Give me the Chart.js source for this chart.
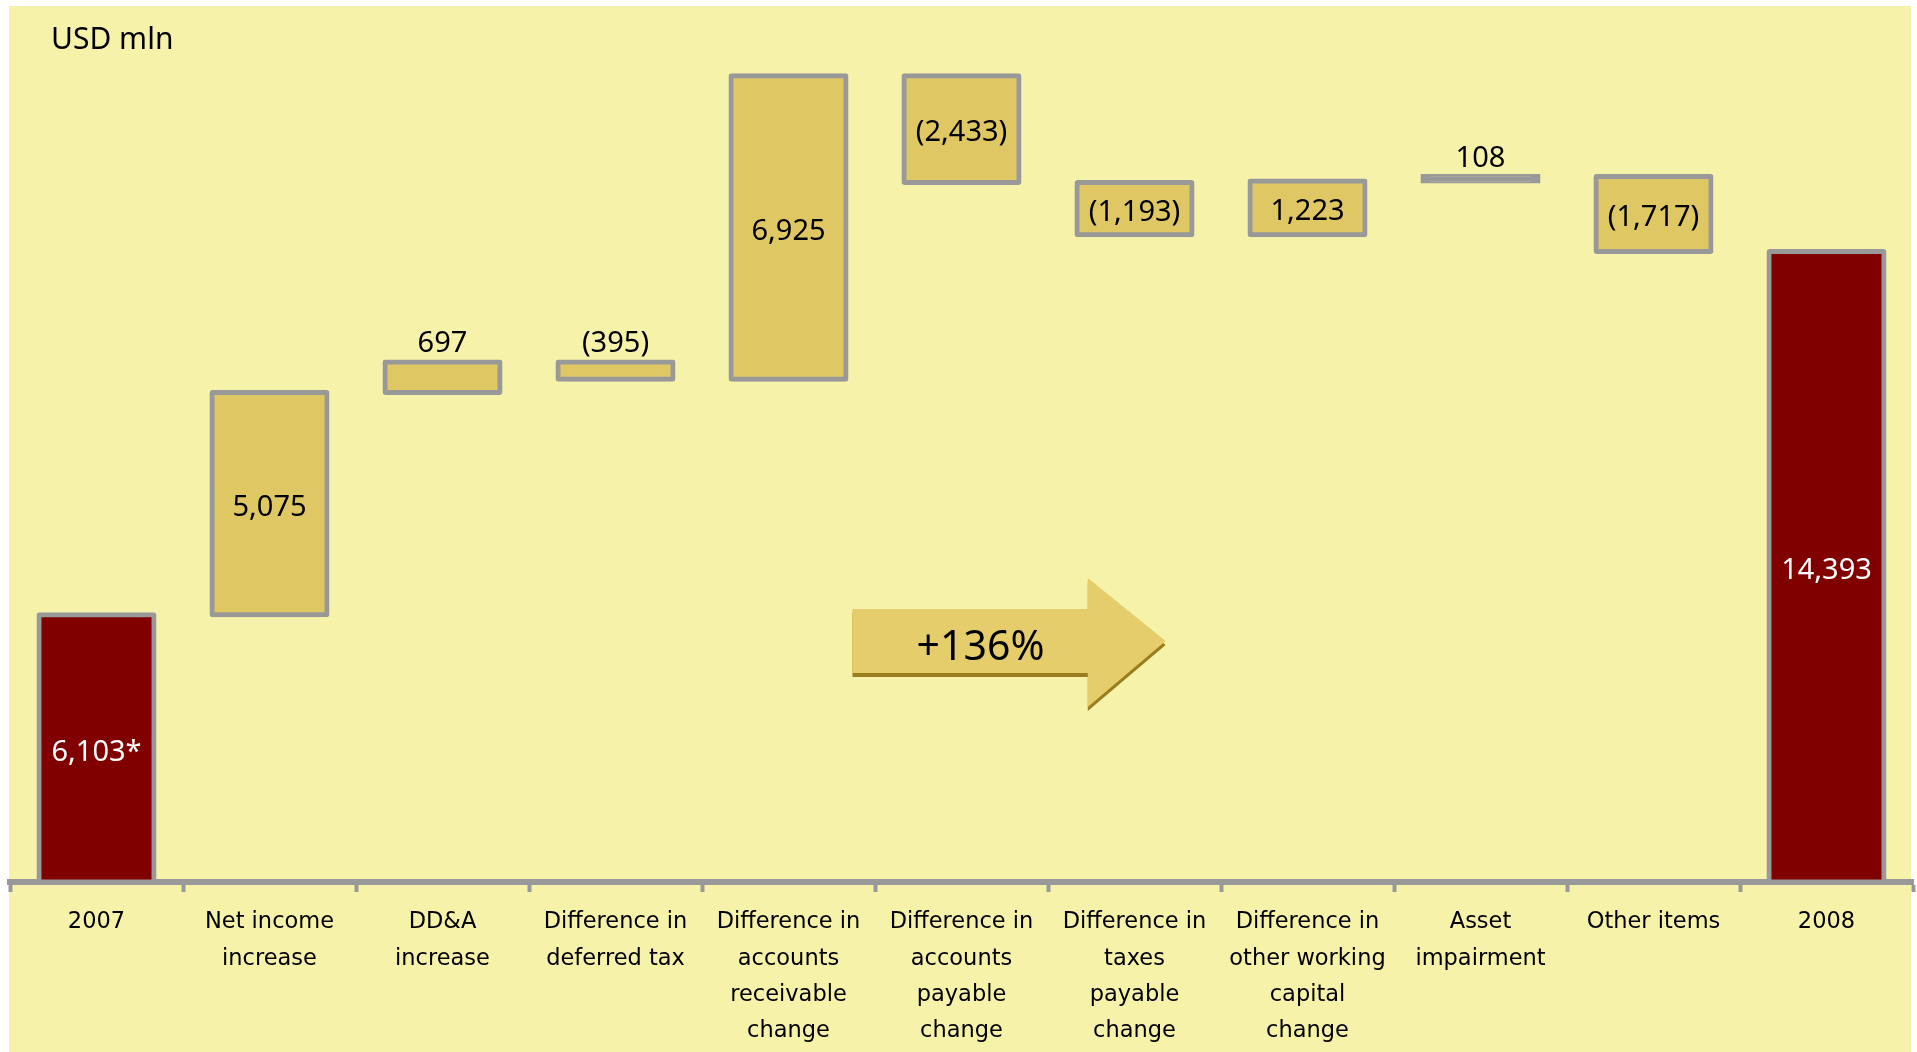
<!DOCTYPE html>
<html><head><meta charset="utf-8">
<script src="https://cdn.jsdelivr.net/npm/chart.js@4"></script>
<style>
html,body{margin:0;padding:0;background:#fff;overflow:hidden;}
#wrap{position:relative;width:1917px;height:1052px;}
#panel{position:absolute;left:9px;top:6px;width:1902px;height:1046px;background:#F7F2AA;}
canvas{position:absolute;left:0;top:0;}
</style></head><body>
<div id="wrap"><div id="panel"></div><canvas id="c" width="1917" height="1052"></canvas></div>
<script>
// ---- data ----
const unitLabel = "USD mln";
const categories = [
  ["2007"],
  ["Net income", "increase"],
  ["DD&A", "increase"],
  ["Difference in", "deferred tax"],
  ["Difference in", "accounts", "receivable", "change"],
  ["Difference in", "accounts", "payable", "change"],
  ["Difference in", "taxes", "payable", "change"],
  ["Difference in", "other working", "capital", "change"],
  ["Asset", "impairment"],
  ["Other items"],
  ["2008"]
];
const startValue = 6103;
const changes = [5075, 697, -395, 6925, -2433, -1193, 1223, 108, -1717];
const endValue = 14393;
const startMark = "*";
const growthLabel = "+136%";
const yMin = 0, yMax = 20000;

// ---- build floating ranges from the data ----
const ranges = [[0, startValue]];
const values = [startValue];
let run = startValue;
for (const d of changes) { ranges.push([run, run + d]); values.push(d); run += d; }
ranges.push([0, endValue]); values.push(endValue);
const lastIdx = values.length - 1;

function fmt(v, i) {
  const s = Math.abs(v).toLocaleString('en-US');
  let t = v < 0 ? '(' + s + ')' : s;
  if (i === 0) t += startMark;
  return t;
}

// ---- styles ----
const GREY = '#999999', GOLD = '#DFC764', RED = '#800000';
const BORDER = 5;
const isTotal = i => i === 0 || i === lastIdx;
const isThin = (c) => {
  const ca = c.chart.chartArea;
  return !!ca && Math.abs(values[c.dataIndex]) / (yMax - yMin) * (ca.bottom - ca.top) < BORDER;
};

// arrow decoration, in scale units (x: category index, y: value)
const arrowShape = { x0: 4.37, xHead: 5.73, xTip: 6.18, bodyTop: 6233, bodyBottom: 4772,
  headTop: 6941, headBottom: 3995, tipY: 5502, textX: 5.11, textY: 5330, shadow: 4 };

const overlay = {
  id: 'overlay',
  beforeDatasetsDraw(chart) {
    const ctx = chart.ctx, xs = chart.scales.x, ys = chart.scales.y, a = arrowShape;
    const X = v => xs.getPixelForValue(v), Y = v => ys.getPixelForValue(v);
    const path = (dy) => {
      ctx.beginPath();
      ctx.moveTo(X(a.x0), Y(a.bodyTop) + dy);
      ctx.lineTo(X(a.xHead), Y(a.bodyTop) + dy);
      ctx.lineTo(X(a.xHead), Y(a.headTop) + dy);
      ctx.lineTo(X(a.xTip), Y(a.tipY) + dy);
      ctx.lineTo(X(a.xHead), Y(a.headBottom) + dy);
      ctx.lineTo(X(a.xHead), Y(a.bodyBottom) + dy);
      ctx.lineTo(X(a.x0), Y(a.bodyBottom) + dy);
      ctx.closePath();
    };
    ctx.save();
    path(a.shadow); ctx.fillStyle = '#9A7D1E'; ctx.fill();
    path(0); ctx.fillStyle = '#E5CD6B'; ctx.fill();
    ctx.fillStyle = '#000';
    ctx.font = '41px "Noto Sans"';
    ctx.textAlign = 'center'; ctx.textBaseline = 'middle';
    ctx.fillText(growthLabel, X(a.textX), Y(a.textY));
    ctx.restore();
  },
  afterDatasetsDraw(chart) {
    const ctx = chart.ctx;
    const meta = chart.getDatasetMeta(0);
    ctx.save();
    ctx.font = '29px "Noto Sans"';
    ctx.textAlign = 'center'; ctx.textBaseline = 'middle';
    meta.data.forEach((el, i) => {
      const top = Math.min(el.y, el.base), bot = Math.max(el.y, el.base);
      const txt = fmt(values[i], i);
      if (bot - top > 40) {
        ctx.fillStyle = isTotal(i) ? '#fff' : '#000';
        ctx.fillText(txt, el.x, (top + bot) / 2 + 4);
      } else {
        ctx.fillStyle = '#000';
        ctx.fillText(txt, el.x, top - 18);
      }
    });
    ctx.font = '30px "Noto Sans"';
    ctx.textAlign = 'left'; ctx.textBaseline = 'alphabetic';
    ctx.fillStyle = '#000';
    ctx.fillText(unitLabel, chart.chartArea.left + 41, 49);
    ctx.restore();
  }
};

new Chart(document.getElementById('c'), {
  type: 'bar',
  data: {
    labels: categories,
    datasets: [{
      data: ranges,
      backgroundColor: (c) => isTotal(c.dataIndex) ? RED : (isThin(c) ? GREY : GOLD),
      borderColor: GREY,
      borderWidth: BORDER,
      borderSkipped: false,
      borderRadius: (c) => isThin(c) ? 0 : 3,
      inflateAmount: BORDER / 2,
      barPercentage: 0.665,
      categoryPercentage: 1.0
    }]
  },
  options: {
    responsive: false,
    animation: false,
    events: [],
    layout: { padding: { left: 10, right: 4, top: 6, bottom: 0 } },
    plugins: { legend: { display: false }, tooltip: { enabled: false }, title: { display: false } },
    scales: {
      y: { display: false, min: yMin, max: yMax },
      x: {
        afterFit: (s) => { s.height = 170; },
        grid: { display: true, drawOnChartArea: false, offset: true, drawTicks: true,
                tickLength: 10, tickWidth: 4, tickColor: GREY, color: GREY },
        border: { display: true, width: 6, color: GREY },
        ticks: { autoSkip: false, maxRotation: 0, minRotation: 0, padding: 12, color: '#000',
                 font: { family: '"DejaVu Sans"', size: 22.5, lineHeight: 1.62 } }
      }
    }
  },
  plugins: [overlay]
});
</script>
</body></html>
